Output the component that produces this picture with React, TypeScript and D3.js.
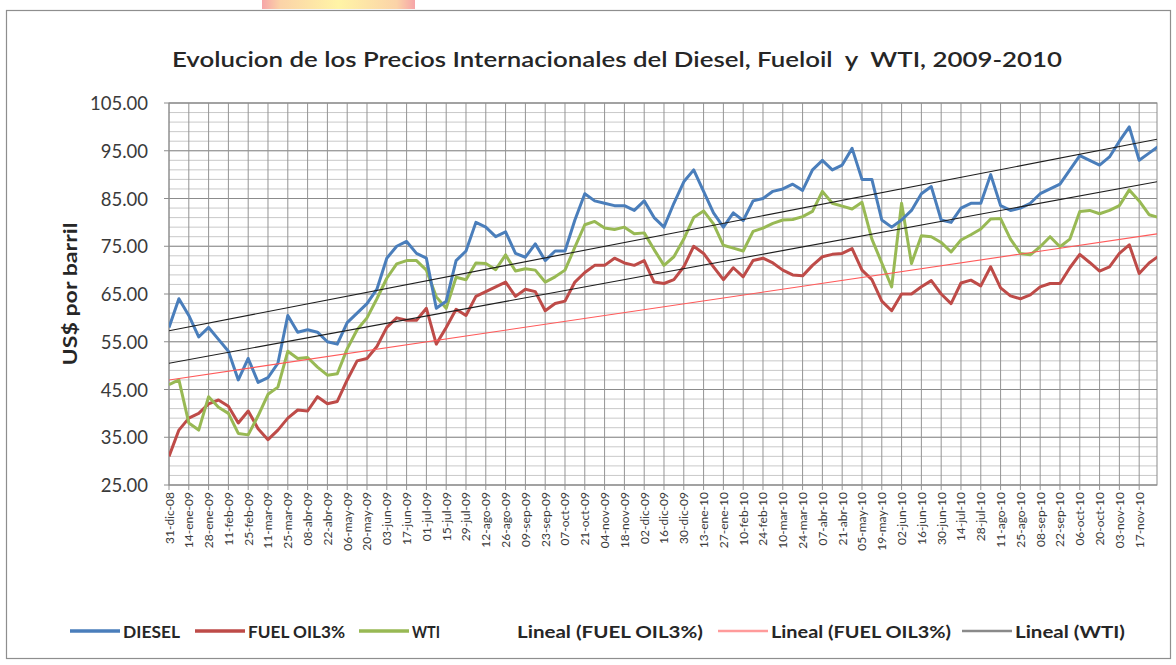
import React from "react";
import * as d3 from "d3";

// weekly readings (every 5 business days), 31-dic-08 .. dic-10
const dieselValues = [
  58, 64, 60.5, 56, 58, 55.5, 53, 47, 51.5, 46.5,
  47.5, 50.5, 60.5, 57, 57.5, 57, 55, 54.5, 59, 61,
  63, 66, 72.5, 75, 76, 73.5, 72.5, 62, 63.5, 72,
  74, 80, 79, 77, 78, 73.5, 72.7, 75.5, 72, 74,
  74, 80.5, 86, 84.5, 84, 83.5, 83.5, 82.5, 84.5, 81,
  79, 84, 88.5, 91, 86.5, 82, 79, 82, 80.4, 84.5,
  85, 86.5, 87, 88, 86.7, 91, 93, 91, 92, 95.5,
  89, 89, 80.5, 79, 80.5, 82.5, 86, 87.5, 80.5, 80,
  83, 84, 84, 90, 83.5, 82.5, 83, 84, 86, 87,
  88, 91, 94, 93, 92, 93.7, 97, 100, 93, 94.5, 96,
];

const fuelValues = [
  31, 36.5, 39, 40, 42, 42.8, 41.5, 38, 40.5, 36.8,
  34.5, 36.5, 39, 40.7, 40.5, 43.5, 42, 42.5, 47, 51,
  51.5, 54, 58, 60, 59.5, 59.5, 62, 54.5, 58, 61.8,
  60.5, 64.5, 65.5, 66.5, 67.5, 64.5, 66, 65.5, 61.5, 63,
  63.5, 67.5, 69.5, 71, 71, 72.5, 71.5, 71, 72, 67.5,
  67.2, 68, 70.7, 75, 73.5, 70.7, 68, 70.5, 68.6, 72,
  72.5, 71.5, 70, 69, 68.8, 71, 72.8, 73.3, 73.5, 74.5,
  70, 68, 63.5, 61.5, 65, 65, 66.5, 67.8, 65, 63,
  67.3, 67.9, 66.7, 70.7, 66.3, 64.6, 64, 64.8, 66.5, 67.2,
  67.2, 70.5, 73.3, 71.6, 69.8, 70.7, 73.5, 75.3, 69.3, 71.5, 73,
];

const wtiValues = [
  46, 47, 38, 36.5, 43.5, 41.3, 40, 35.8, 35.5, 39.5,
  44, 45.5, 53, 51.5, 51.7, 49.7, 48, 48.3, 53.5, 57.5,
  60, 64, 68.3, 71.3, 72, 72, 70, 64.4, 62, 68.5,
  68, 71.5, 71.4, 70.1, 73.2, 69.8, 70.3, 70, 67.5, 68.6,
  70, 74.8, 79.5, 80.2, 78.8, 78.5, 79, 77.6, 77.8, 74.3,
  71, 72.8, 76.5, 81, 82.4, 79.7, 75.2, 74.6, 74, 78.1,
  78.8, 79.8, 80.5, 80.6, 81.2, 82.3, 86.5, 84, 83.4, 82.8,
  84.2, 76.5, 71.5, 66.5, 84, 71.4, 77.2, 77, 75.8, 73.8,
  76.3, 77.4, 78.6, 80.7, 80.8, 76.5, 73.5, 73.2, 74.9, 77,
  74.9, 76.5, 82.3, 82.5, 81.8, 82.5, 83.5, 86.8, 84.5, 81.6, 81,
];

// linear trend lines: value at first and last day
const trendDiesel = [57.3, 97.4];
const trendWti = [50.5, 88.5];
const trendFuel = [47.0, 77.6];

const dateLabels = [
  "31-dic-08", "14-ene-09", "28-ene-09", "11-feb-09", "25-feb-09", "11-mar-09", "25-mar-09",
  "08-abr-09", "22-abr-09", "06-may-09", "20-may-09", "03-jun-09", "17-jun-09", "01-jul-09",
  "15-jul-09", "29-jul-09", "12-ago-09", "26-ago-09", "09-sep-09", "23-sep-09", "07-oct-09",
  "21-oct-09", "04-nov-09", "18-nov-09", "02-dic-09", "16-dic-09", "30-dic-09", "13-ene-10",
  "27-ene-10", "10-feb-10", "24-feb-10", "10-mar-10", "24-mar-10", "07-abr-10", "21-abr-10",
  "05-may-10", "19-may-10", "02-jun-10", "16-jun-10", "30-jun-10", "14-jul-10", "28-jul-10",
  "11-ago-10", "25-ago-10", "08-sep-10", "22-sep-10", "06-oct-10", "20-oct-10", "03-nov-10",
  "17-nov-10",
];

const yTicks = [25, 35, 45, 55, 65, 75, 85, 95, 105];

const W = 1176;
const H = 665;
const plot = { left: 169, right: 1157, top: 103, bottom: 485 };
const dayCount = 499;
const dayStep = 5;
const labelStep = 10;
const font = "Lato, 'Open Sans', sans-serif";

const legendItems = [
  { label: "DIESEL", color: "#4a7ebb", w: 3, tx: 123, tl: 57 },
  { label: "FUEL OIL3%", color: "#be4b48", w: 3, tx: 248, tl: 97 },
  { label: "WTI", color: "#98b954", w: 3, tx: 412, tl: 28 },
  { label: "Lineal (FUEL OIL3%)", color: "#ffffff", w: 2, tx: 517, tl: 186 },
  { label: "Lineal (FUEL OIL3%)", color: "#ff9b9b", w: 2, tx: 771, tl: 180 },
  { label: "Lineal (WTI)", color: "#8a8a8a", w: 2, tx: 1015, tl: 110 },
];

export default function App() {
  const x = d3.scaleLinear().domain([0, dayCount]).range([plot.left, plot.right]);
  const y = d3.scaleLinear().domain([25, 105]).range([plot.bottom, plot.top]);

  const line = d3
    .line<number>()
    .x((_, i) => x(i * dayStep))
    .y((d) => y(d));

  const minorTicks = d3.range(25, 105.01, 2);

  const series = [
    { values: fuelValues, color: "#be4b48" },
    { values: wtiValues, color: "#98b954" },
    { values: dieselValues, color: "#4a7ebb" },
  ];

  const trends = [
    { v: trendFuel, color: "#ff5a5a" },
    { v: trendWti, color: "#1e1e1e" },
    { v: trendDiesel, color: "#1e1e1e" },
  ];

  return (
    <svg
      width={W}
      height={H}
      style={{ position: "absolute", left: 0, top: 0, background: "#fff" }}
      fontFamily={font}
    >
      <defs>
        <clipPath id="plotClip">
          <rect x={plot.left} y={plot.top - 4} width={plot.right - plot.left} height={plot.bottom - plot.top + 8} />
        </clipPath>
        <linearGradient id="blob" x1="0" x2="1" y1="0" y2="0">
          <stop offset="0" stopColor="#f6a5a8" />
          <stop offset="0.12" stopColor="#fbd3a8" />
          <stop offset="0.5" stopColor="#fff4a6" />
          <stop offset="0.88" stopColor="#fbd3a8" />
          <stop offset="1" stopColor="#f6a5a8" />
        </linearGradient>
      </defs>

      <rect x={0} y={0} width={W} height={H} fill="#fff" />
      <rect x={262} y={0} width={153} height={9} fill="url(#blob)" />
      <rect x={6.5} y={10.5} width={1164} height={648} fill="#fff" stroke="#8e8e8e" strokeWidth={1.2} />

      <text
        x={617}
        y={67}
        textAnchor="middle"
        fontSize={20.5}
        fontWeight={600}
        fill="#262626"
        textLength={890}
        lengthAdjust="spacingAndGlyphs"
        style={{ whiteSpace: "pre" }}
      >
        {"Evolucion de los Precios Internacionales del Diesel, Fueloil  y  WTI, 2009-2010"}
      </text>

      {/* grid */}
      {minorTicks.map((t) => (
        <line key={"m" + t} x1={plot.left} x2={plot.right} y1={y(t)} y2={y(t)} stroke="#c9c9c9" strokeWidth={1} />
      ))}
      {yTicks.map((t) => (
        <line key={"M" + t} x1={plot.left - 5} x2={plot.right} y1={y(t)} y2={y(t)} stroke="#8c8c8c" strokeWidth={1} />
      ))}
      {dateLabels.map((d, k) => (
        <line key={"v" + d} x1={x(k * labelStep)} x2={x(k * labelStep)} y1={plot.top} y2={plot.bottom + 5} stroke="#949494" strokeWidth={1} />
      ))}
      <rect x={plot.left} y={plot.top} width={plot.right - plot.left} height={plot.bottom - plot.top} fill="none" stroke="#8c8c8c" />

      {/* y labels */}
      {yTicks.map((t) => (
        <text key={"yl" + t} x={148} y={y(t)} textAnchor="end" dominantBaseline="central" fontSize={18.5} fill="#3a3a3a">
          {t.toFixed(2)}
        </text>
      ))}
      <text
        transform={`translate(70, ${(plot.top + plot.bottom) / 2}) rotate(-90)`}
        textAnchor="middle"
        dominantBaseline="central"
        fontSize={18}
        fontWeight={700}
        fill="#262626"
        textLength={143}
        lengthAdjust="spacingAndGlyphs"
      >
        US$ por barril
      </text>

      {/* x labels */}
      {dateLabels.map((d, k) => (
        <text
          key={"xl" + d}
          transform={`translate(${x(k * labelStep)}, ${plot.bottom + 7}) rotate(-90)`}
          textAnchor="end"
          dominantBaseline="central"
          fontSize={12}
          fill="#3a3a3a"
        >
          {d}
        </text>
      ))}

      {/* series + trends */}
      <g clipPath="url(#plotClip)">
        {series.map((s, i) => (
          <path key={"s" + i} d={line(s.values) ?? ""} fill="none" stroke={s.color} strokeWidth={3} strokeLinejoin="round" />
        ))}
        {trends.map((t, i) => (
          <line key={"t" + i} x1={x(0)} x2={x(dayCount)} y1={y(t.v[0])} y2={y(t.v[1])} stroke={t.color} strokeWidth={1.1} />
        ))}
      </g>

      {/* legend */}
      {legendItems.map((it, i) => (
        <g key={"lg" + i}>
          <line x1={it.tx - 53} x2={it.tx - 3} y1={631} y2={631} stroke={it.color} strokeWidth={it.w + 0.5} />
          <text x={it.tx} y={631} dominantBaseline="central" fontSize={17} fontWeight={700} fill="#262626" textLength={it.tl} lengthAdjust="spacingAndGlyphs">
            {it.label}
          </text>
        </g>
      ))}
    </svg>
  );
}
